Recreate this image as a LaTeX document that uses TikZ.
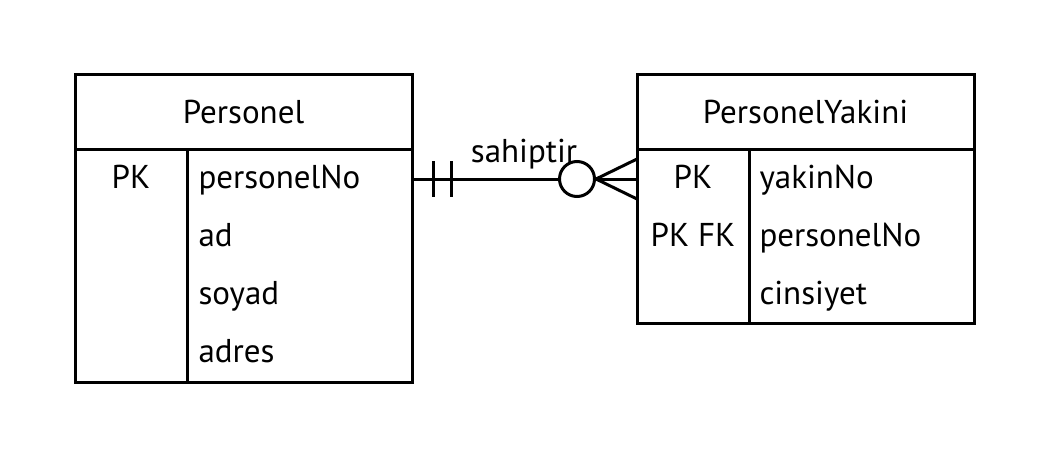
\documentclass[tikz,border=0pt]{standalone}
\usepackage{fontspec}
\setmainfont{PT Sans}
\usetikzlibrary{positioning}
\begin{document}
\begin{tikzpicture}[x=1pt,y=-1pt,line width=3pt,
  cell/.style={font=\fontsize{33}{36}\selectfont,inner sep=0pt},
  zero/.style={circle,draw,fill=white,minimum size=35pt,inner sep=0pt}]
\useasboundingbox(0,0)rectangle(1050,458);
% Personel
\draw(75,74)rectangle(412,382);
\draw(75,149)--(412,149)(187,149)--(187,382);
\node[cell,anchor=base](perT)at(243.5,123){Personel};
\node[cell,anchor=base](perK)at(131,188){PK};
\foreach \t[count=\i]in{personelNo,ad,soyad,adres}
\node[cell,anchor=base west](per\i)at(197,130+58*\i){\t};
% PersonelYakini
\draw(637,74)rectangle(974,323);
\draw(637,149)--(974,149)(749,149)--(749,323);
\node[cell,anchor=base](yakT)at(805.5,123){PersonelYakini};
\node[cell,anchor=base](yakK1)at(693,188){PK};
\node[cell,anchor=base](yakK2)at(693,246){PK FK};
\foreach \t[count=\i]in{yakinNo,personelNo,cinsiyet}
\node[cell,anchor=base west](yak\i)at(758,130+58*\i){\t};
% sahiptir
\coordinate(perR)at(412,179);
\coordinate(yakL)at(637,179);
\draw(perR)--(yakL);
\draw([xshift=21pt]perR)++(0,-18)--++(0,36);
\draw([xshift=39pt]perR)++(0,-18)--++(0,36);
\node[cell,anchor=base](rel)at(524,162){sahiptir};
\node[zero](z)at(577,179){};
\draw(z.east)--([yshift=20pt]yakL)(z.east)--([yshift=-20pt]yakL);
\end{tikzpicture}
\end{document}
